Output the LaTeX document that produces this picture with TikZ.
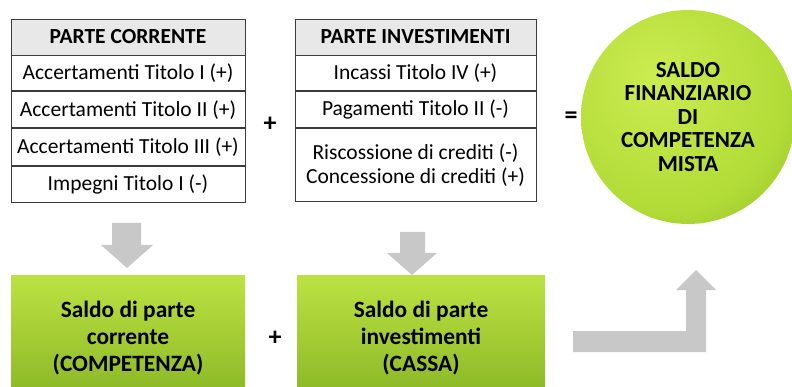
\documentclass[tikz,border=0pt]{standalone}
\usepackage{fontspec}
\setmainfont{Carlito}
\usetikzlibrary{positioning}

\definecolor{gridgray}{RGB}{60,60,60}
\definecolor{headgray}{RGB}{232,232,232}
\definecolor{arrowgray}{RGB}{200,200,200}
\definecolor{greentop}{RGB}{188,226,66}
\definecolor{greenbot}{RGB}{138,182,38}
\definecolor{greenin}{RGB}{204,236,80}
\definecolor{greenmid}{RGB}{178,220,56}
\definecolor{greenout}{RGB}{128,172,28}

\pgfdeclareradialshading{saldoball}{\pgfpoint{-8bp}{10bp}}{%
    color(0bp)=(greenin); color(28bp)=(greenmid); color(50bp)=(greenout);
    color(52bp)=(greenout); color(80bp)=(greenout)}

\tikzset{
    cell/.style={draw=gridgray, line width=0.9pt, fill=white, inner sep=0pt,
        font=\fontsize{21.5}{24}\selectfont, align=center},
    headcell/.style={cell, fill=headgray, font=\fontsize{21.5}{24}\selectfont\bfseries},
    saldobox/.style={draw=none, top color=greentop, bottom color=greenbot,
        inner sep=0pt, font=\fontsize{23.4}{27}\selectfont\bfseries, align=center},
    opsign/.style={font=\fontsize{26}{26}\selectfont\bfseries, inner sep=0pt},
    blockarrow/.style={fill=arrowgray, draw=none}
}

\begin{document}
\begin{tikzpicture}[x=1pt, y=-1pt]
    \useasboundingbox (0,0) rectangle (792,387);

    % Parte corrente
    \node[headcell, minimum width=234pt, minimum height=36pt] (corrHead) at (128,37) {PARTE CORRENTE};
    \node[cell, minimum width=234pt, minimum height=35pt, below=0pt of corrHead] (corrA) {Accertamenti Titolo I (+)};
    \node[cell, minimum width=234pt, minimum height=36pt, below=0pt of corrA] (corrB) {Accertamenti Titolo II (+)};
    \node[cell, minimum width=234pt, minimum height=37pt, below=0pt of corrB] (corrC) {Accertamenti Titolo III (+)};
    \node[cell, minimum width=234pt, minimum height=36pt, below=0pt of corrC] (corrD) {Impegni Titolo I (-)};

    % Parte investimenti
    \node[headcell, minimum width=241pt, minimum height=36pt] (invHead) at (415.5,37) {PARTE INVESTIMENTI};
    \node[cell, minimum width=241pt, minimum height=35pt, below=0pt of invHead] (invA) {Incassi Titolo IV (+)};
    \node[cell, minimum width=241pt, minimum height=36pt, below=0pt of invA] (invB) {Pagamenti Titolo II (-)};
    \node[cell, minimum width=241pt, minimum height=73pt, below=0pt of invB] (invC) {Riscossione di crediti (-)\\Concessione di crediti (+)};

    \node[opsign] (plusTop) at (270,124) {+};
    \node[opsign] (equals) at (571,118) {=};

    % Saldo finanziario
    \node[circle, draw=none, shading=saldoball, minimum size=214pt,
        font=\fontsize{23}{23.5}\selectfont\bfseries, align=center] (saldoMix) at (688,117)
        {SALDO\\FINANZIARIO\\DI\\COMPETENZA\\MISTA};

    % Saldi di parte
    \node[saldobox, minimum width=234pt, minimum height=124pt] (saldoCorr) at (128,338)
        {Saldo di parte\\corrente\\(COMPETENZA)};
    \node[saldobox, minimum width=248pt, minimum height=124pt] (saldoInv) at (421,338)
        {Saldo di parte\\investimenti\\(CASSA)};
    \node[opsign] (plusBot) at (275,338) {+};

    % Frecce
    \fill[blockarrow] (112,223) -- (141,223) -- (141,245) -- (153,245) -- (127,268)
        -- (101,245) -- (112,245) -- cycle;
    \fill[blockarrow] (400,232) -- (425,232) -- (425,253) -- (437,253) -- (412,275)
        -- (387,253) -- (400,253) -- cycle;
    \fill[blockarrow] (573,331) -- (686,331) -- (686,290) -- (676,290) -- (696,270)
        -- (716,290) -- (706,290) -- (706,352) -- (573,352) -- cycle;
\end{tikzpicture}
\end{document}
